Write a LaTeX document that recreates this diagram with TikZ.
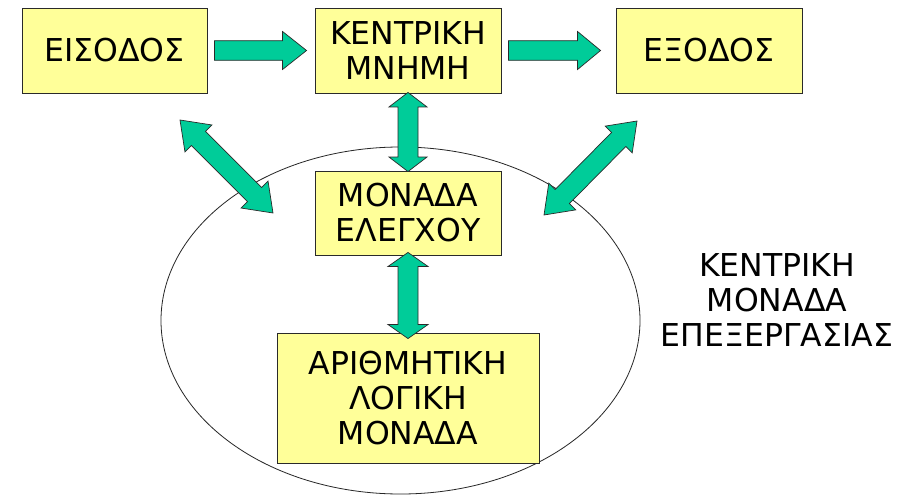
\documentclass[tikz,border=0pt]{standalone}
\usepackage{fontspec}
\setmainfont{DejaVu Sans}
\usetikzlibrary{calc,shapes.geometric}

\definecolor{boxfill}{HTML}{FFFF99}
\definecolor{arrowfill}{HTML}{00CC99}
\definecolor{edgeline}{HTML}{2A2A2A}

\newcommand\labelfont{\fontsize{31.5}{35}\selectfont}

\tikzset{
  unitbox/.style={draw=edgeline, line width=0.9pt, fill=boxfill, align=center,
    inner sep=0pt, font=\labelfont},
  plainlabel/.style={align=center, inner sep=0pt, font=\labelfont},
  fatarrow/.style={draw=edgeline, line width=0.7pt, fill=arrowfill, line join=miter},
  cpuring/.style={draw=black!85, line width=0.8pt, ellipse, inner sep=0pt},
}

% block arrow: #1 tail, #2 tip, #3 head length, #4 head half width, #5 shaft half width
\newcommand\onewayarrow[5]{%
  \filldraw[fatarrow] ($(#1)!#5!90:(#2)$)
    -- ($(#2)!#3!(#1)!#5!-90:(#1)$) -- ($(#2)!#3!(#1)!#4!-90:(#1)$)
    -- (#2)
    -- ($(#2)!#3!(#1)!#4!90:(#1)$) -- ($(#2)!#3!(#1)!#5!90:(#1)$)
    -- ($(#1)!#5!-90:(#2)$) -- cycle;}

% two-headed block arrow between tips #1 and #2
\newcommand\twowayarrow[5]{%
  \filldraw[fatarrow] (#1)
    -- ($(#1)!#3!(#2)!#4!90:(#2)$) -- ($(#1)!#3!(#2)!#5!90:(#2)$)
    -- ($(#2)!#3!(#1)!#5!-90:(#1)$) -- ($(#2)!#3!(#1)!#4!-90:(#1)$)
    -- (#2)
    -- ($(#2)!#3!(#1)!#4!90:(#1)$) -- ($(#2)!#3!(#1)!#5!90:(#1)$)
    -- ($(#1)!#3!(#2)!#5!-90:(#2)$) -- ($(#1)!#3!(#2)!#4!-90:(#2)$)
    -- cycle;}

\begin{document}
\begin{tikzpicture}[x=1pt, y=-1pt]
  \fill[white] (0,0) rectangle (915,497);
  \useasboundingbox (0,0) rectangle (915,497);

  % central processing unit outline
  \node[cpuring, minimum width=479pt, minimum height=347pt] (cpu) at (400.5,320.5) {};

  % units
  \node[unitbox, minimum width=185pt, minimum height=85pt] (input)   at (114.5,50.5) {ΕΙΣΟΔΟΣ};
  \node[unitbox, minimum width=186pt, minimum height=85pt] (memory)  at (408,50.5)   {ΚΕΝΤΡΙΚΗ\\ΜΝΗΜΗ};
  \node[unitbox, minimum width=186pt, minimum height=85pt] (output)  at (709,50.5)   {ΕΞΟΔΟΣ};
  \node[unitbox, minimum width=186pt, minimum height=84pt] (control) at (408,213)    {ΜΟΝΑΔΑ\\ΕΛΕΓΧΟΥ};
  \node[unitbox, minimum width=262pt, minimum height=130pt] (alu)    at (408,398)    {ΑΡΙΘΜΗΤΙΚΗ\\ΛΟΓΙΚΗ\\ΜΟΝΑΔΑ};

  \node[plainlabel] (cpulabel) at (777,300.5) {ΚΕΝΤΡΙΚΗ\\ΜΟΝΑΔΑ\\ΕΠΕΞΕΡΓΑΣΙΑΣ};

  % arrow end points
  \coordinate (inTail)  at ([xshift=7pt]input.east);
  \coordinate (inTip)   at ([xshift=-8pt]memory.west);
  \coordinate (outTail) at ([xshift=7pt]memory.east);
  \coordinate (outTip)  at ([xshift=-15pt]output.west);
  \coordinate (memEnd)  at ([yshift=1pt]memory.south);
  \coordinate (ctlTop)  at ([yshift=-1pt]control.north);
  \coordinate (ctlBot)  at ([yshift=3pt]control.south);
  \coordinate (aluTop)  at ([yshift=-6pt]alu.north);
  \coordinate (inDiag)  at (180,120);
  \coordinate (cpuLeft) at (273,213);
  \coordinate (outDiag) at (637,121);
  \coordinate (cpuRight) at (544,215);

  % data flow
  \onewayarrow{inTail}{inTip}{24pt}{19pt}{9.8pt}
  \onewayarrow{outTail}{outTip}{23pt}{19pt}{9.8pt}
  \twowayarrow{memEnd}{ctlTop}{14.5pt}{19pt}{10pt}
  \twowayarrow{ctlBot}{aluTop}{14pt}{20pt}{10pt}
  \twowayarrow{inDiag}{cpuLeft}{26pt}{19pt}{10pt}
  \twowayarrow{outDiag}{cpuRight}{26pt}{19pt}{10pt}
\end{tikzpicture}
\end{document}
